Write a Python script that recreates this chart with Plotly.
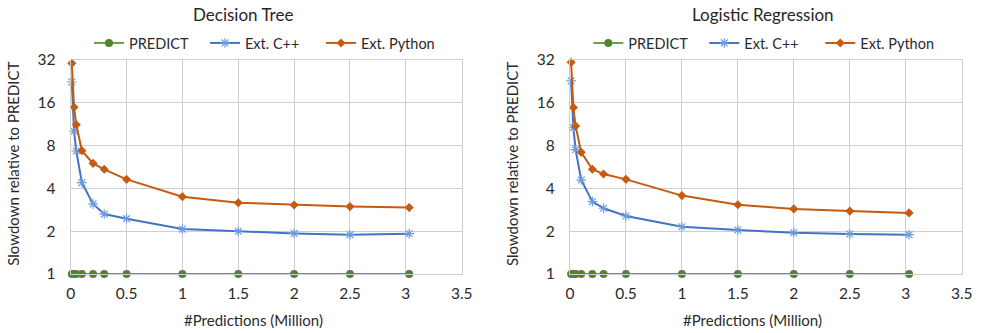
import plotly.graph_objects as go
import math

# ---- data ----
x_vals = [0.01, 0.03, 0.05, 0.1, 0.2, 0.3, 0.5, 1, 1.5, 2, 2.5, 3.03]

dt_predict = [1, 1, 1, 1, 1, 1, 1, 1, 1, 1, 1, 1]
dt_cpp = [22.4, 10.1, 7.33, 4.39, 3.11, 2.64, 2.45, 2.07, 2.0, 1.93, 1.89, 1.92]
dt_python = [30.3, 14.9, 11.2, 7.37, 6.0, 5.45, 4.63, 3.50, 3.17, 3.06, 2.98, 2.93]

lr_predict = [1, 1, 1, 1, 1, 1, 1, 1, 1, 1, 1, 1]
lr_cpp = [22.8, 10.7, 7.49, 4.58, 3.23, 2.90, 2.56, 2.15, 2.04, 1.95, 1.91, 1.89]
lr_python = [30.8, 14.8, 11.0, 7.17, 5.45, 5.05, 4.63, 3.56, 3.07, 2.87, 2.77, 2.69]

titles = ["Decision Tree", "Logistic Regression"]
series_names = ["PREDICT", "Ext. C++", "Ext. Python"]
y_ticks = [1, 2, 4, 8, 16, 32]
x_ticks = [0, 0.5, 1, 1.5, 2, 2.5, 3, 3.5]
x_tick_text = ["0", "0.5", "1", "1.5", "2", "2.5", "3", "3.5"]
x_title = "#Predictions (Million)"
y_title = "Slowdown relative to PREDICT"

# ---- style ----
W, H = 998, 333
FONT = "Lato"
TXT = "#2b2b2b"
GRID = "#cfcfcf"
GREEN_L = "#6a9f48"
GREEN = "#548235"
BLUE = "#4472C4"
BLUE_M = "#6a9be0"
ORANGE = "#C55A11"

px_l = [(70.7, 461.7), (570.0, 961.7)]
py_top, py_bot = 60.0, 274.0
ydom = [1 - py_bot / H, 1 - py_top / H]
title_dx = [-23, -3]

fig = go.Figure()

panels = [(dt_predict, dt_cpp, dt_python), (lr_predict, lr_cpp, lr_python)]
for i, (pr, cp, py) in enumerate(panels):
    xa = "x" if i == 0 else "x2"
    ya = "y" if i == 0 else "y2"
    lg = "legend" if i == 0 else "legend2"
    fig.add_trace(go.Scatter(x=x_vals, y=pr, name=series_names[0], mode="lines+markers",
                             line=dict(color=GREEN_L, width=2),
                             marker=dict(symbol="circle", size=8, color=GREEN),
                             xaxis=xa, yaxis=ya, legend=lg, cliponaxis=False))
    fig.add_trace(go.Scatter(x=x_vals, y=cp, name=series_names[1], mode="lines+markers",
                             line=dict(color=BLUE, width=2),
                             marker=dict(symbol="asterisk-open", size=8, color=BLUE_M,
                                         line=dict(color=BLUE_M, width=1.2)),
                             xaxis=xa, yaxis=ya, legend=lg, cliponaxis=False))
    fig.add_trace(go.Scatter(x=x_vals, y=py, name=series_names[2], mode="lines+markers",
                             line=dict(color=ORANGE, width=2),
                             marker=dict(symbol="diamond", size=7, color=ORANGE),
                             xaxis=xa, yaxis=ya, legend=lg, cliponaxis=False))

axis_common_x = dict(range=[0, 3.5], tickvals=x_ticks, ticktext=x_tick_text,
                     showgrid=True, gridcolor=GRID, gridwidth=1.3, automargin=False,
                     zeroline=False, showline=True, linecolor=GRID, linewidth=1.3, mirror=True,
                     ticks="", tickfont=dict(family=FONT, size=15.5, color=TXT),
                     ticklabelstandoff=5)
axis_common_y = dict(type="log", range=[0, math.log10(32)], tickvals=y_ticks,
                     ticktext=[str(v) for v in y_ticks], automargin=False,
                     showgrid=True, gridcolor=GRID, gridwidth=1.3,
                     zeroline=False, showline=True, linecolor=GRID, linewidth=1.3, mirror=True,
                     ticks="", tickfont=dict(family=FONT, size=15.5, color=TXT),
                     ticklabelstandoff=11)

leg_common = dict(orientation="h", xanchor="left", y=1 - 43 / H, yanchor="middle",
                  font=dict(family=FONT, size=14.5, color=TXT),
                  bgcolor="rgba(0,0,0,0)", entrywidth=71, entrywidthmode="pixels")

fig.update_layout(
    width=W, height=H,
    margin=dict(l=0, r=0, t=0, b=0, autoexpand=False),
    paper_bgcolor="white", plot_bgcolor="white",
    font=dict(family=FONT, color=TXT),
    xaxis=dict(domain=[px_l[0][0] / W, px_l[0][1] / W], anchor="y", **axis_common_x),
    yaxis=dict(domain=ydom, anchor="x", **axis_common_y),
    xaxis2=dict(domain=[px_l[1][0] / W, px_l[1][1] / W], anchor="y2", **axis_common_x),
    yaxis2=dict(domain=ydom, anchor="x2", **axis_common_y),
    legend=dict(x=89 / W, **leg_common),
    legend2=dict(x=(89 + 499.3) / W, **leg_common),
    showlegend=True,
)

annotations = []
for i in range(2):
    cx = (px_l[i][0] + px_l[i][1]) / 2
    annotations.append(dict(text=titles[i], x=(cx + title_dx[i]) / W, y=1 - 15 / H, xref="paper", yref="paper",
                            xanchor="center", yanchor="middle", showarrow=False,
                            font=dict(family=FONT, size=17, color="#262626")))
    annotations.append(dict(text=x_title, x=(cx - 13) / W, y=1 - 320 / H, xref="paper", yref="paper",
                            xanchor="center", yanchor="middle", showarrow=False,
                            font=dict(family=FONT, size=15, color=TXT)))
    annotations.append(dict(text=y_title, x=(px_l[i][0] - 58) / W, y=1 - 164 / H, xref="paper", yref="paper",
                            xanchor="center", yanchor="middle", showarrow=False, textangle=-90,
                            font=dict(family=FONT, size=15, color=TXT)))
fig.update_layout(annotations=annotations)

fig.write_html("out.html")
